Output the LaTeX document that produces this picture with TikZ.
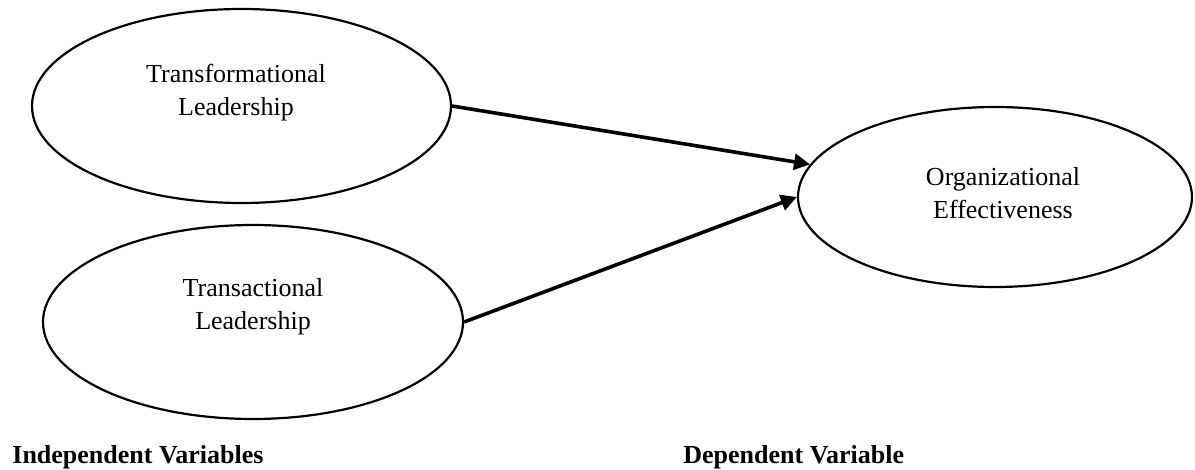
\documentclass[tikz,border=0pt]{standalone}
\usepackage{fontspec}
\setmainfont{Liberation Serif}
\usetikzlibrary{shapes.geometric,arrows.meta}
\begin{document}
\begin{tikzpicture}[x=0.5pt,y=-0.5pt,
  oval/.style={draw=black,line width=1.1pt,ellipse,inner sep=0pt,fill=none},
  lbl/.style={font=\fontsize{13}{16.5}\selectfont,align=center,inner sep=0pt},
  captxt/.style={font=\fontsize{13}{16.5}\selectfont\bfseries,inner sep=0pt,anchor=base west},
  arr/.style={line width=1.8pt,-{Triangle[length=8pt,width=8pt]}}]
\useasboundingbox (0,0) rectangle (1195,470);
\node[oval,minimum width=209.5pt,minimum height=97pt] (e1) at (241.5,106) {};
\node[oval,minimum width=210pt,minimum height=97pt] (e2) at (253,322) {};
\node[oval,minimum width=197pt,minimum height=90pt] (e3) at (995,197) {};
\node[lbl] (t1) at (236,93) {Transformational\\Leadership};
\node[lbl] (t2) at (253,307) {Transactional\\Leadership};
\node[lbl] (t3) at (1003,193) {Organizational\\Effectiveness};
\draw[arr] (e1.east) -- (e3.170);
\draw[arr] (e2.east) -- (e3.west);
\node[captxt] (c1) at (12,463) {Independent Variables};
\node[captxt] (c2) at (683,463) {Dependent Variable};
\end{tikzpicture}
\end{document}
